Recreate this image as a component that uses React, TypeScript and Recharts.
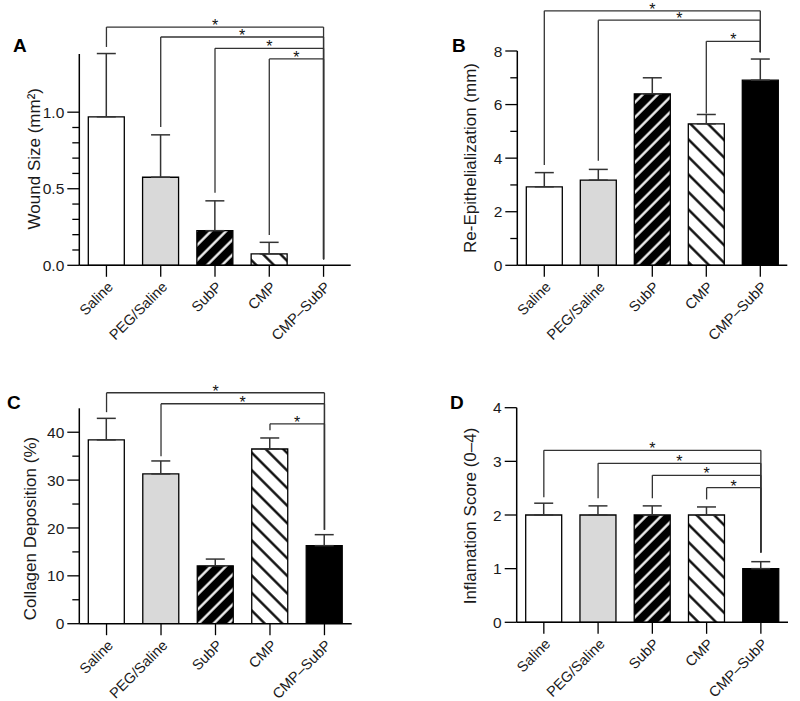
import React from 'react';
import { BarChart, Bar, XAxis, YAxis, Cell, ErrorBar, ReferenceLine, ReferenceDot } from 'recharts';

const FONT = '"Liberation Sans", Arial, Helvetica, sans-serif';

const CATEGORIES = ['Saline', 'PEG/Saline', 'SubP', 'CMP', 'CMP–SubP'];

const WOUND_MEAN = [0.97, 0.575, 0.226, 0.074, 0];
const WOUND_SD = [0.413, 0.277, 0.195, 0.076, 0];
const REEPI_MEAN = [2.93, 3.18, 6.4, 5.28, 6.91];
const REEPI_SD = [0.53, 0.4, 0.6, 0.35, 0.79];
const COLLAGEN_MEAN = [38.4, 31.3, 12.1, 36.5, 16.3];
const COLLAGEN_SD = [4.5, 2.7, 1.4, 2.3, 2.3];
const INFLAM_MEAN = [2, 2, 2, 2, 1];
const INFLAM_SD = [0.22, 0.17, 0.17, 0.15, 0.13];

const WOUND_TICKS = [0, 0.1, 0.2, 0.3, 0.4, 0.5, 0.6, 0.7, 0.8, 0.9, 1.0];
const WOUND_LABELS = [0, 0.5, 1.0];
const REEPI_TICKS = [0, 1, 2, 3, 4, 5, 6, 7, 8];
const REEPI_LABELS = [0, 2, 4, 6, 8];
const COLLAGEN_TICKS = [0, 5, 10, 15, 20, 25, 30, 35, 40];
const COLLAGEN_LABELS = [0, 10, 20, 30, 40];
const INFLAM_TICKS = [0, 1, 2, 3, 4];
const INFLAM_LABELS = [0, 1, 2, 3, 4];

// significance brackets: [fromIndex, toIndex, level, fromEnd, toEnd] (data units)
const WOUND_BRACKETS = [
  [0, 4, 1.556, 1.426, 0.039],
  [1, 4, 1.491, 0.904, 0.039],
  [2, 4, 1.417, 0.474, 0.039],
  [3, 4, 1.348, 0.198, 0.039],
];
const REEPI_BRACKETS = [
  [0, 4, 9.5, 3.74, 7.95],
  [1, 4, 9.15, 3.9, 7.95],
  [3, 4, 8.36, 5.67, 7.95],
];
const COLLAGEN_BRACKETS = [
  [0, 4, 48.25, 44.19, 19.62],
  [1, 4, 45.95, 34.97, 19.62],
  [3, 4, 41.76, 40.42, 19.62],
];
const INFLAM_BRACKETS = [
  [0, 4, 3.206, 2.33, 1.3],
  [1, 4, 2.964, 2.31, 1.3],
  [2, 4, 2.74, 2.31, 1.3],
  [3, 4, 2.51, 2.29, 1.3],
];

const LINE = '#333';
const YTICK_FONT = 15.5;
const XTICK_FONT = 14.5;

function makeYTick(labels: number[], decimals: number) {
  return (props: any) => {
    const { x, y, payload } = props;
    const major = labels.some((l) => Math.abs(l - payload.value) < 1e-9);
    const len = major ? 12 : 7;
    return (
      <g>
        <line x1={x - len} x2={x} y1={y} y2={y} stroke="#000" strokeWidth={1.3} />
        {major && (
          <text x={x - len - 3} y={y} dy="0.36em" textAnchor="end" fontSize={YTICK_FONT} fontFamily={FONT} fill="#1a1a1a">
            {Number(payload.value).toFixed(decimals)}
          </text>
        )}
      </g>
    );
  };
}

const XTick = (props: any) => {
  const { x, y, payload } = props;
  return (
    <g>
      <line x1={x} x2={x} y1={y} y2={y + 11.5} stroke="#000" strokeWidth={1.3} />
      <text
        transform={`translate(${x + 7.5},${y + 22.5}) rotate(-45)`}
        textAnchor="end"
        fontSize={XTICK_FONT}
        fontFamily={FONT}
        fill="#1a1a1a"
      >
        {payload.value}
      </text>
    </g>
  );
};

type PanelProps = {
  id: string;
  means: number[];
  sds: number[];
  max: number;
  ticks: number[];
  labels: number[];
  decimals: number;
  brackets: number[][];
  left: number;
  top: number;
  width: number;
  height: number;
  margin: { top: number; right: number; bottom: number; left: number };
};

function Panel(p: PanelProps) {
  const data = CATEGORIES.map((name, i) => ({ name, i, mean: p.means[i], err: [0, p.sds[i]] }));
  const fills = ['#ffffff', '#d9d9d9', `url(#subp-${p.id})`, `url(#cmp-${p.id})`, '#000000'];
  const YTick = makeYTick(p.labels, p.decimals);
  return (
    <div style={{ position: 'absolute', left: p.left, top: p.top, width: p.width, height: p.height }}>
      <BarChart width={p.width} height={p.height} data={data} margin={p.margin} style={{ overflow: 'visible' }}>
        <defs>
          <pattern id={`subp-${p.id}`} patternUnits="userSpaceOnUse" width={10.6} height={10.6} patternTransform="rotate(45)">
            <rect x={0} y={0} width={10.6} height={10.6} fill="#000" />
            <line x1={5.3} y1={-1} x2={5.3} y2={12} stroke="#fff" strokeWidth={2.3} />
          </pattern>
          <pattern id={`cmp-${p.id}`} patternUnits="userSpaceOnUse" width={12.4} height={12.4} patternTransform="rotate(-45)">
            <rect x={0} y={0} width={12.4} height={12.4} fill="#fff" />
            <line x1={6.2} y1={-1} x2={6.2} y2={14} stroke="#000" strokeWidth={2.3} />
          </pattern>
        </defs>
        <XAxis
          xAxisId="cat"
          dataKey="name"
          type="category"
          axisLine={{ stroke: '#000', strokeWidth: 1.5 }}
          tickLine={false}
          tickSize={0}
          tickMargin={0}
          interval={0}
          tick={XTick}
          height={60}
        />
        <XAxis xAxisId="idx" dataKey="i" type="number" domain={[-0.5, 4.5]} hide allowDataOverflow />
        <YAxis
          type="number"
          domain={[0, p.max]}
          allowDataOverflow
          ticks={p.ticks}
          interval={0}
          axisLine={{ stroke: '#000', strokeWidth: 1.5 }}
          tickLine={false}
          tickSize={0}
          tickMargin={0}
          tick={YTick}
          width={60}
        />
        <Bar xAxisId="cat" dataKey="mean" barSize={36} isAnimationActive={false}>
          {data.map((d, i) => (
            <Cell key={d.name} fill={fills[i]} stroke="#000" strokeWidth={1.3} />
          ))}
          <ErrorBar dataKey="err" direction="y" width={9.5} stroke={LINE} strokeWidth={1.5} isAnimationActive={false} />
        </Bar>
        {p.brackets.map((b, k) => (
          <ReferenceLine
            key={`h${k}`}
            xAxisId="idx"
            ifOverflow="visible"
            segment={[{ x: b[0], y: b[2] }, { x: b[1], y: b[2] }]}
            stroke={LINE}
            strokeWidth={1.3}
          />
        ))}
        {p.brackets.map((b, k) => (
          <ReferenceLine
            key={`l${k}`}
            xAxisId="idx"
            ifOverflow="visible"
            segment={[{ x: b[0], y: b[2] }, { x: b[0], y: b[3] }]}
            stroke={LINE}
            strokeWidth={1.3}
          />
        ))}
        {p.brackets.map((b, k) => (
          <ReferenceLine
            key={`r${k}`}
            xAxisId="idx"
            ifOverflow="visible"
            segment={[{ x: b[1], y: b[2] }, { x: b[1], y: b[4] }]}
            stroke={LINE}
            strokeWidth={1.3}
          />
        ))}
        {p.brackets.map((b, k) => (
          <ReferenceDot
            key={`s${k}`}
            xAxisId="idx"
            x={(b[0] + b[1]) / 2}
            y={b[2]}
            r={0}
            ifOverflow="visible"
            shape={(sp: any) => (
              <text x={sp.cx} y={sp.cy + 4} textAnchor="middle" fontSize={16} fontFamily={FONT} fill="#111">
                *
              </text>
            )}
          />
        ))}
      </BarChart>
    </div>
  );
}

export default function App() {
  const titleStyle = { fontFamily: FONT, fontSize: 17, fill: '#1a1a1a' } as const;
  const letterStyle = { fontFamily: FONT, fontSize: 19, fontWeight: 700, fill: '#000' } as const;
  return (
    <div style={{ position: 'absolute', left: 0, top: 0, width: 800, height: 701, background: '#fff', overflow: 'hidden' }}>
      <Panel
        id="A"
        means={WOUND_MEAN}
        sds={WOUND_SD}
        max={1.38}
        ticks={WOUND_TICKS}
        labels={WOUND_LABELS}
        decimals={1}
        brackets={WOUND_BRACKETS}
        left={0}
        top={0}
        width={400}
        height={350}
        margin={{ top: 54, right: 49.3, bottom: 24.7, left: 19.3 }}
      />
      <Panel
        id="B"
        means={REEPI_MEAN}
        sds={REEPI_SD}
        max={8}
        ticks={REEPI_TICKS}
        labels={REEPI_LABELS}
        decimals={0}
        brackets={REEPI_BRACKETS}
        left={400}
        top={0}
        width={400}
        height={350}
        margin={{ top: 51, right: 12.7, bottom: 24.7, left: 57.3 }}
      />
      <Panel
        id="C"
        means={COLLAGEN_MEAN}
        sds={COLLAGEN_SD}
        max={45}
        ticks={COLLAGEN_TICKS}
        labels={COLLAGEN_LABELS}
        decimals={0}
        brackets={COLLAGEN_BRACKETS}
        left={0}
        top={350}
        width={400}
        height={351}
        margin={{ top: 58.3, right: 48.3, bottom: 17.3, left: 19.3 }}
      />
      <Panel
        id="D"
        means={INFLAM_MEAN}
        sds={INFLAM_SD}
        max={4}
        ticks={INFLAM_TICKS}
        labels={INFLAM_LABELS}
        decimals={0}
        brackets={INFLAM_BRACKETS}
        left={400}
        top={350}
        width={400}
        height={351}
        margin={{ top: 57.7, right: 12, bottom: 18.7, left: 56.7 }}
      />
      <svg width={800} height={701} style={{ position: 'absolute', left: 0, top: 0, pointerEvents: 'none' }}>
        <text x={13} y={52} style={letterStyle}>A</text>
        <text x={452} y={52} style={letterStyle}>B</text>
        <text x={7} y={409} style={letterStyle}>C</text>
        <text x={450} y={409} style={letterStyle}>D</text>
        <text transform="translate(34.5,158.7) rotate(-90)" textAnchor="middle" dy="0.35em" style={titleStyle}>
          Wound Size (mm²)
        </text>
        <text transform="translate(470.5,158) rotate(-90)" textAnchor="middle" dy="0.35em" style={titleStyle}>
          Re-Epithelialization (mm)
        </text>
        <text transform="translate(30.5,528.5) rotate(-90)" textAnchor="middle" dy="0.35em" style={titleStyle}>
          Collagen Deposition (%)
        </text>
        <text transform="translate(470.5,516) rotate(-90)" textAnchor="middle" dy="0.35em" style={titleStyle}>
          Inflamation Score (0–4)
        </text>
      </svg>
    </div>
  );
}
